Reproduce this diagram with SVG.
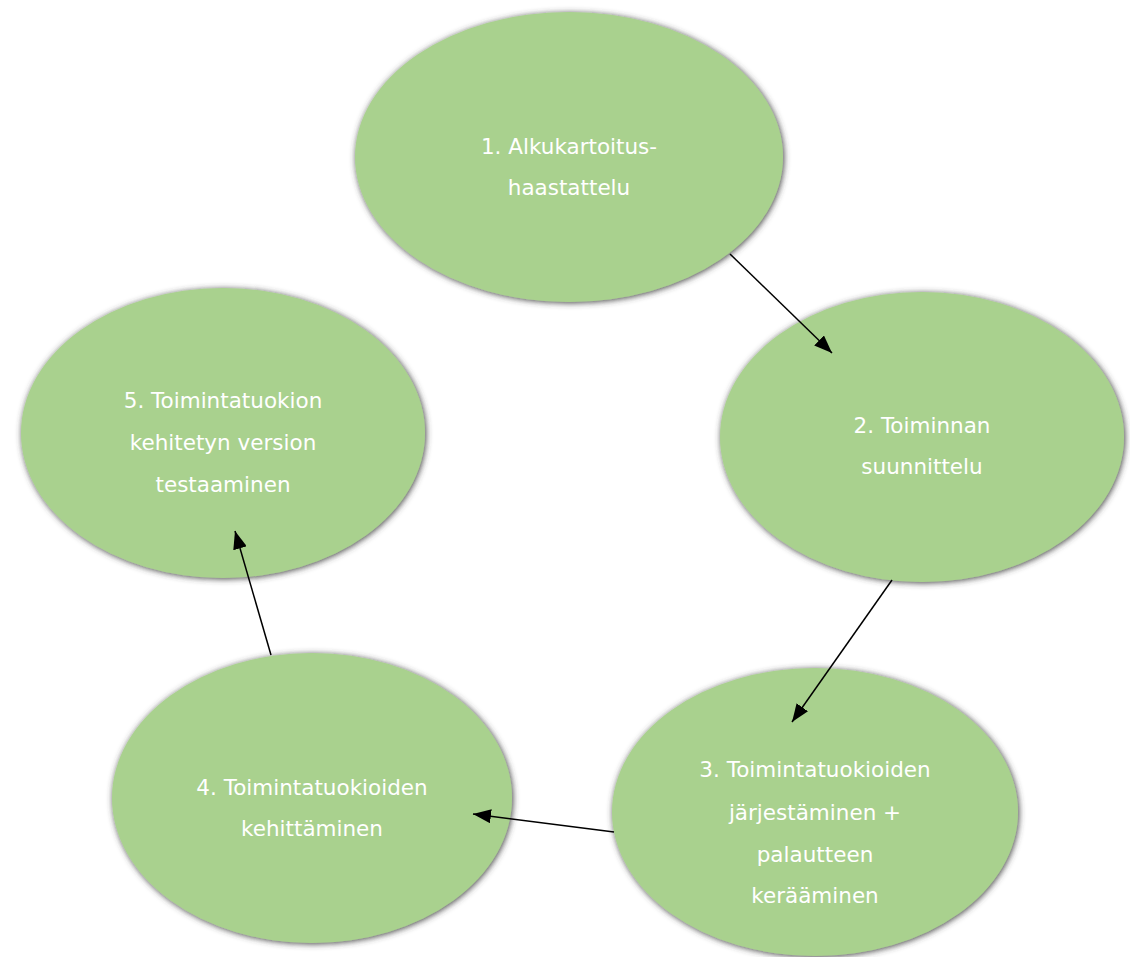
<svg xmlns="http://www.w3.org/2000/svg" width="1130" height="957" viewBox="0 0 1130 957">
  <defs>
    <filter id="soft-shadow" x="-10%" y="-10%" width="120%" height="120%">
      <feGaussianBlur in="SourceAlpha" stdDeviation="3"/>
      <feOffset dx="1" dy="1" result="blur"/>
      <feFlood flood-color="#3a3a3a" flood-opacity="0.95"/>
      <feComposite in2="blur" operator="in"/>
      <feMerge>
        <feMergeNode/>
        <feMergeNode in="SourceGraphic"/>
      </feMerge>
    </filter>
    <marker id="arrow" viewBox="0 0 18 14" refX="18" refY="7" markerWidth="18" markerHeight="14" markerUnits="userSpaceOnUse" orient="auto">
      <path d="M0,0 L18,7 L0,14 Z" fill="#000"/>
    </marker>
    <style>
      .step { fill: #a9d18e; filter: url(#soft-shadow); }
      .label { font-family: "DejaVu Sans", Tahoma, sans-serif; font-size: 21.5px; fill: #ffffff; text-anchor: middle; }
      .link { stroke: #000; stroke-width: 1.5; fill: none; marker-end: url(#arrow); }
    </style>
  </defs>
  <rect width="1130" height="957" fill="#ffffff"/>

  <g id="step1">
    <ellipse class="step" cx="569" cy="157" rx="214" ry="145"/>
    <text class="label" x="569" y="154">1. Alkukartoitus-</text>
    <text class="label" x="569" y="195">haastattelu</text>
  </g>

  <g id="step2">
    <ellipse class="step" cx="922" cy="437" rx="202" ry="145"/>
    <text class="label" x="922" y="433">2. Toiminnan</text>
    <text class="label" x="922" y="474">suunnittelu</text>
  </g>

  <g id="step3">
    <ellipse class="step" cx="815" cy="812" rx="203" ry="144"/>
    <text class="label" x="815" y="777">3. Toimintatuokioiden</text>
    <text class="label" x="815" y="820">järjestäminen +</text>
    <text class="label" x="815" y="862">palautteen</text>
    <text class="label" x="815" y="903">kerääminen</text>
  </g>

  <g id="step4">
    <ellipse class="step" cx="312" cy="798" rx="200" ry="145"/>
    <text class="label" x="312" y="795">4. Toimintatuokioiden</text>
    <text class="label" x="312" y="836">kehittäminen</text>
  </g>

  <g id="step5">
    <ellipse class="step" cx="223" cy="433" rx="202" ry="145"/>
    <text class="label" x="223" y="408">5. Toimintatuokion</text>
    <text class="label" x="223" y="450">kehitetyn version</text>
    <text class="label" x="223" y="492">testaaminen</text>
  </g>

  <g id="connectors">
    <line class="link" x1="730" y1="254" x2="832" y2="353"/>
    <line class="link" x1="892" y1="580" x2="792" y2="722"/>
    <line class="link" x1="614" y1="832" x2="473" y2="814"/>
    <line class="link" x1="271" y1="655" x2="235" y2="531"/>
  </g>
</svg>
